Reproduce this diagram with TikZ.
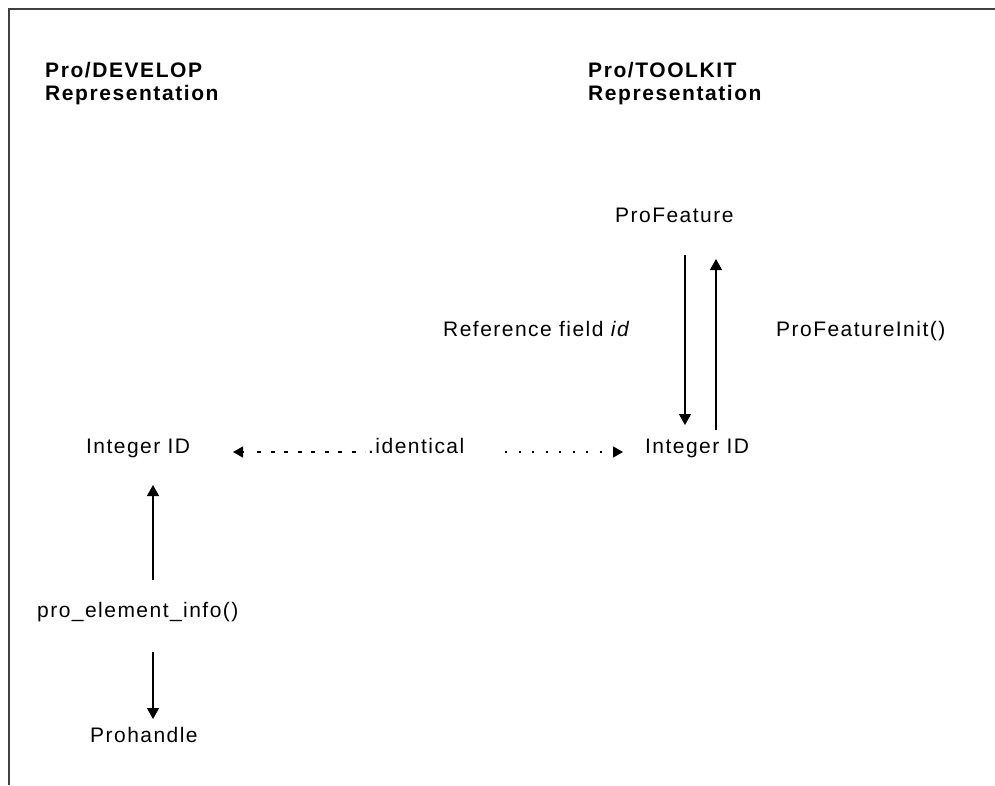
\documentclass[tikz,border=0pt]{standalone}
\usepackage{fontspec}
\setmainfont{Liberation Sans}[LetterSpace=7]
\newfontfamily\titlefont{Liberation Sans}[LetterSpace=7.5]
\usetikzlibrary{arrows.meta}
\tikzset{
  lbl/.style={inner sep=0pt, anchor=base west, font=\fontsize{21}{23}\selectfont},
  ttl/.style={inner sep=0pt, anchor=base west, font=\titlefont\fontsize{21}{23}\selectfont\bfseries},
  arr/.style={line width=1.4pt, -{Triangle[length=11pt,width=12pt]}},
  head/.style={line width=1.4pt, -{Triangle[length=10pt,width=11pt]}},
  dashl/.style={line width=1.4pt, dash pattern=on 4pt off 9.5pt},
  dotl/.style={line width=1.4pt, dash pattern=on 2pt off 11.5pt},
}
\begin{document}
\begin{tikzpicture}[x=1pt,y=-1pt]
\useasboundingbox (0,0) rectangle (995,785);
\draw[line width=2.2pt, black!75] (995,9) -- (9,9) -- (9,785);
% titles
\node[ttl] (t1) at (45,77) {Pro/DEVELOP};
\node[ttl] (t2) at (45,100) {Representation};
\node[ttl] (t3) at (588,77) {Pro/TOOLKIT};
\node[ttl] (t4) at (588,100) {Representation};
% nodes
\node[lbl] (pf) at (615,222) {ProFeature};
\node[lbl] (ref) at (443,336) {Reference field \textit{id}};
\node[lbl] (pfi) at (776,336) {ProFeatureInit()};
\node[lbl] (lid) at (86,453) {Integer ID};
\node[lbl] (rid) at (645,453) {Integer ID};
\node[lbl] (ident) at (368,453) {.identical};
\node[lbl] (pei) at (37,617) {pro\_element\_info()};
\node[lbl] (ph) at (90,742) {Prohandle};
% coordinates
\coordinate (d1) at (685,255);
\coordinate (d2) at (685,425);
\coordinate (u1) at (716,430);
\coordinate (u2) at (716,259);
\coordinate (l1) at (153,580);
\coordinate (l2) at (153,485);
\coordinate (m1) at (153,652);
\coordinate (m2) at (153,719);
\coordinate (h1) at (257,452);
\coordinate (h0) at (243,452);
\coordinate (h2) at (233,452);
\coordinate (h3) at (365,452);
\coordinate (h4) at (505,452);
\coordinate (h6) at (613,452);
\coordinate (h5) at (623,452);
% arrows
\draw[arr] (d1) -- (d2);
\draw[arr] (u1) -- (u2);
\draw[arr] (l1) -- (l2);
\draw[arr] (m1) -- (m2);
\draw[dashl] (h1) -- (h3);
\draw[head] (h0) -- (h2);
\draw[dotl] (h4) -- (h6);
\draw[head] (h6) -- (h5);
\end{tikzpicture}
\end{document}
